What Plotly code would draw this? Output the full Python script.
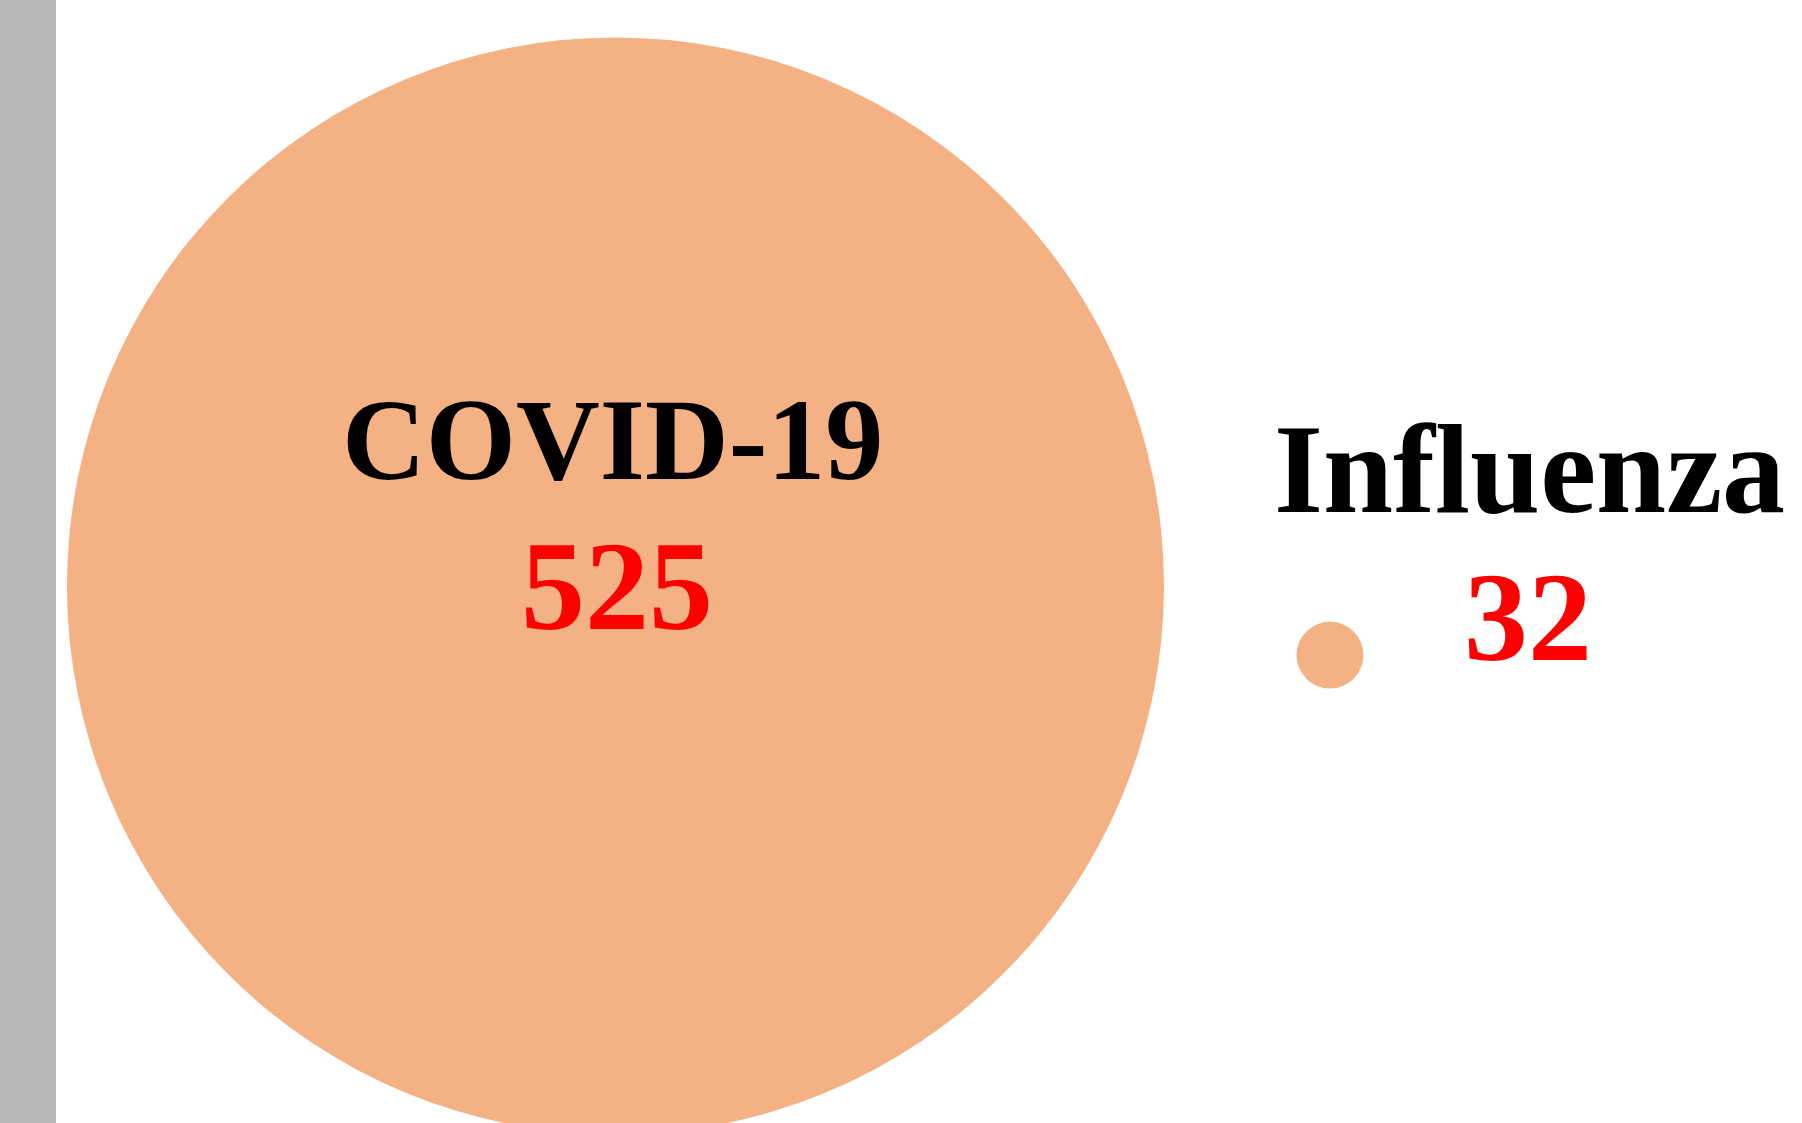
import plotly.graph_objects as go

# ---- data ----
categories = ["COVID-19", "Influenza"]
values = [525, 32]
value_labels = ["525", "32"]

# ---- style ----
BUBBLE_COLOR = "#F4B183"
BAR_COLOR = "#B8B8B8"
FONT = "Liberation Serif"
W, H = 1802, 1123
MAX_DIAM = 1097  # px diameter of the largest bubble

fig = go.Figure()

# one trace per category so each can sit on its own vertical axis
yaxes = ["y", "y2"]
for i, (cat, val) in enumerate(zip(categories, values)):
    fig.add_trace(go.Scatter(
        x=[i], y=[0], mode="markers",
        marker=dict(size=[val], sizemode="diameter",
                    sizeref=max(values) / MAX_DIAM,
                    color=BUBBLE_COLOR, line=dict(width=0), opacity=1),
        yaxis=yaxes[i], showlegend=False, hoverinfo="skip", cliponaxis=False,
    ))

# label offsets (px) relative to each bubble centre
name_shift = [(-3, 146), (200, 186)]
val_shift = [(2, 0), (198, 38)]
name_size = [116, 126]
val_size = [128, 128]

annotations = []
for i, cat in enumerate(categories):
    annotations.append(dict(
        x=i, y=0, xref="x", yref=yaxes[i], text=cat, showarrow=False,
        xanchor="center", yanchor="middle",
        xshift=name_shift[i][0], yshift=name_shift[i][1],
        font=dict(family=FONT, size=name_size[i], color="black", weight="bold"),
    ))
    annotations.append(dict(
        x=i, y=0, xref="x", yref=yaxes[i], text=value_labels[i], showarrow=False,
        xanchor="center", yanchor="middle",
        xshift=val_shift[i][0], yshift=val_shift[i][1],
        font=dict(family=FONT, size=val_size[i], color="#FF0000", weight="bold"),
    ))

fig.update_layout(
    width=W, height=H,
    margin=dict(l=0, r=0, t=0, b=0),
    paper_bgcolor="white", plot_bgcolor="white",
    xaxis=dict(range=[-0.8614, 1.6606], visible=False, fixedrange=True),
    yaxis=dict(range=[-0.4782, 0.5218], visible=False, fixedrange=True),
    yaxis2=dict(range=[-0.4167, 0.5833], visible=False, fixedrange=True,
                overlaying="y"),
    annotations=annotations,
    shapes=[dict(type="rect", xref="paper", yref="paper",
                 x0=0, x1=56 / W, y0=0, y1=1,
                 fillcolor=BAR_COLOR, line=dict(width=0), layer="above")],
)

fig.write_html(
    "out.html",
    config={"displayModeBar": False},
    post_script="document.body.style.margin='0';document.body.style.overflow='hidden';",
)
